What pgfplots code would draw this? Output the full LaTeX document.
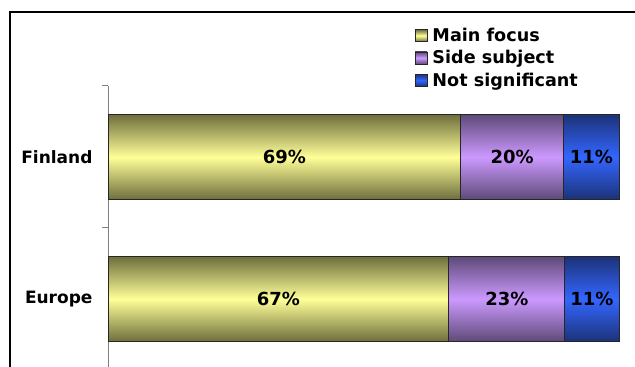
\documentclass[border=0pt]{standalone}
\usepackage{pgfplots}
\pgfplotsset{compat=1.18}
\usepackage{fontspec}
\setmainfont{DejaVu Sans}
\definecolor{yedge}{HTML}{6E6E3C}
\definecolor{ymid}{HTML}{FFFF99}
\definecolor{pedge}{HTML}{5E4A78}
\definecolor{pmid}{HTML}{CC99FF}
\definecolor{bedge}{HTML}{1C3278}
\definecolor{bmid}{HTML}{3366FF}
\newcommand{\cf}{\fontsize{17bp}{20bp}\selectfont\bfseries}
\newcommand{\lf}{\fontsize{17.6bp}{20bp}\selectfont\bfseries}
\newcommand{\nf}{\fontsize{18bp}{20bp}\selectfont\bfseries}
\pgfplotsset{
  rowaxis/.style={
    scale only axis, width=511bp, height=142bp,
    xbar stacked, bar width=85bp,
    xmin=0, xmax=100, ymin=-0.5, ymax=0.5,
    clip=false,
    axis x line=none, axis y line*=left,
    axis line style={draw=gray, line width=1bp},
    tick style={draw=gray, line width=1bp},
    ytick={0},
    major tick length=0pt,
    extra y ticks={-0.5,0.5}, extra y tick labels={},
    extra y tick style={major tick length=6bp, tick align=outside},
    yticklabel style={font=\cf, xshift=-12bp},
    point meta=explicit symbolic,
    nodes near coords={\pgfplotspointmeta\%},
    every node near coord/.append style={font=\nf, anchor=center},
  },
  yb/.style={draw=black!85, line width=0.8bp, top color=yedge, bottom color=yedge, middle color=ymid},
  pb/.style={draw=black!85, line width=0.8bp, top color=pedge, bottom color=pedge, middle color=pmid},
  bb/.style={draw=black!85, line width=0.8bp, top color=bedge, bottom color=bedge, middle color=bmid},
}
\begin{document}
\begin{tikzpicture}
\useasboundingbox (0,0) rectangle (635bp,367bp);
\clip (0,0) rectangle (635bp,367bp);
\draw[line width=2bp] (10bp,-10bp) -- (10bp,355bp) -- (650bp,355bp);
% Finland
\begin{axis}[
  rowaxis, at={(108bp,139bp)}, anchor=south west,
  yticklabels={Finland},
  legend style={at={(0.6,1.4225)}, anchor=north west, draw=none, fill=none, font=\lf, inner sep=0pt, row sep=3.5bp},
  legend cell align=left,
  legend image code/.code={\draw[#1, line width=0.6bp] (0bp,-6bp) rectangle (12bp,6bp); \path (15bp,0bp);},
]
\addplot[yb] coordinates {(69.0,0) [69]};
\addplot[pb] coordinates {(20.2,0) [20]};
\addplot[bb] coordinates {(10.8,0) [11]};
\legend{Main focus, Side subject, Not significant}
\end{axis}
% Europe
\begin{axis}[
  rowaxis, at={(108bp,-3bp)}, anchor=south west,
  yticklabels={Europe},
]
\addplot[yb] coordinates {(66.7,0) [67]};
\addplot[pb] coordinates {(22.7,0) [23]};
\addplot[bb] coordinates {(10.6,0) [11]};
\end{axis}
\end{tikzpicture}
\end{document}
